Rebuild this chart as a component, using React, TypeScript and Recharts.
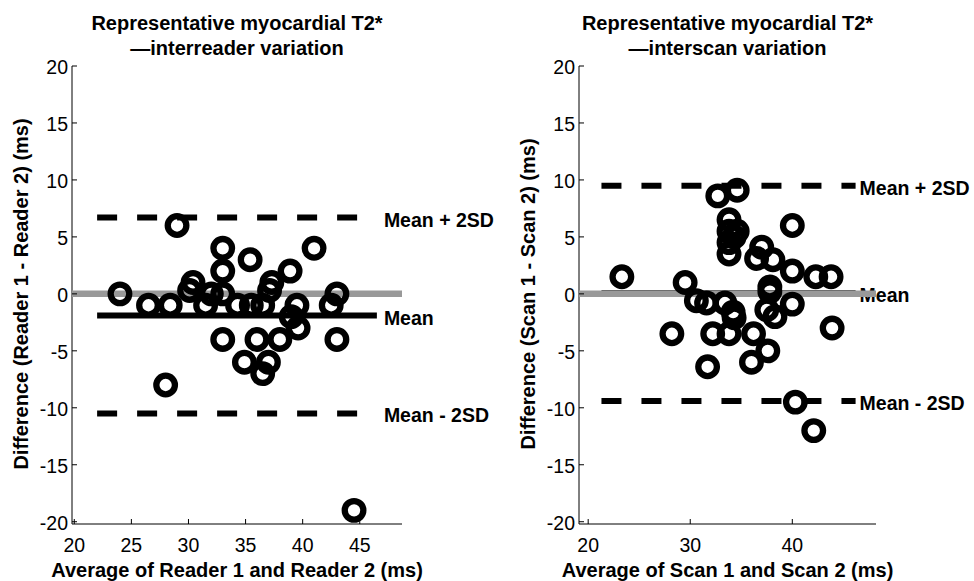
import React from 'react';
import { ScatterChart, Scatter, XAxis, YAxis } from 'recharts';

const FONT = '"Liberation Sans", Arial, Helvetica, sans-serif';

// ---------- Left panel: interreader ----------
const readerAvg = [24.0, 26.5, 28.4, 28.0, 29.0, 30.4, 30.1, 31.5, 32.0, 33.0, 33.0, 33.0, 33.0, 34.3, 34.9, 35.4, 35.5, 36.0, 36.5, 36.5, 37.0, 37.1, 37.3, 38.0, 38.9, 39.5, 39.0, 39.6, 41.0, 42.5, 43.0, 43.0, 44.5];
const readerDiff = [0, -1, -1, -8, 6, 1, 0.3, -1, 0, 4, 2, 0, -4, -1, -6, 3, -1, -4, -1, -7, -6, 0.3, 1, -4, 2, -1, -2, -3, 4, -1, 0, -4, -19];
const readerStats = { mean: -1.9, upper: 6.7, lower: -10.5 };
const readerLineRange = [22, 46.5];
const readerXDomain = [19.8, 48.7];
const readerXTicks = [20, 25, 30, 35, 40, 45];

// ---------- Right panel: interscan ----------
const scanAvg = [23.3, 28.2, 29.5, 30.6, 31.6, 31.7, 32.2, 32.7, 34.6, 33.8, 33.8, 34.6, 34.3, 33.8, 33.8, 33.4, 34.2, 34.3, 33.8, 36.2, 36.0, 37.0, 36.5, 38.1, 37.8, 37.8, 37.5, 38.3, 37.6, 40.0, 40.0, 40.0, 40.3, 42.1, 42.3, 43.8, 43.9];
const scanDiff = [1.5, -3.5, 1, -0.6, -0.8, -6.4, -3.5, 8.6, 9.1, 6.5, 5.5, 5.5, 5.0, 4.5, 3.5, -0.8, -1.6, -2.1, -3.5, -3.5, -6, 4.1, 3.1, 3, 0.6, 0.2, -1.4, -2, -5, 6, 2, -0.9, -9.5, -12, 1.5, 1.5, -3];
const scanStats = { mean: 0.05, upper: 9.5, lower: -9.4 };
const scanLineRange = [21.3, 46.2];
const scanXDomain = [19.1, 48.2];
const scanXTicks = [20, 30, 40];

const yTicks = [-20, -15, -10, -5, 0, 5, 10, 15, 20];
const yDomain = [-20.2, 20];
const labelTexts = { upper: 'Mean + 2SD', mean: 'Mean', lower: 'Mean - 2SD' };

const W = 600;
const H = 581;
const TOP = 66;
const BOTTOM = 57;
const YAXIS_W = 50;

const YTick = (props: any) => {
  const { x, y, payload } = props;
  return (
    <g>
      <line x1={x + 4} x2={x + 9} y1={y} y2={y} stroke="#000" strokeWidth={1} />
      <text x={x} y={y} dy={1} textAnchor="end" dominantBaseline="central" fontSize={19.5} fontFamily={FONT} fill="#000">
        {payload.value}
      </text>
    </g>
  );
};

const XTick = (props: any) => {
  const { x, y, payload } = props;
  return (
    <g>
      <line x1={x} x2={x} y1={y} y2={y - 5} stroke="#000" strokeWidth={1} />
      <text x={x} y={y + 28} textAnchor="middle" fontSize={19.5} fontFamily={FONT} fill="#000">
        {payload.value}
      </text>
    </g>
  );
};

const Ring = (props: any) => {
  const { cx, cy } = props;
  if (cx == null || cy == null) return <g />;
  return <circle cx={cx} cy={cy} r={9.3} fill="none" stroke="#000" strokeWidth={6.3} />;
};

const Empty = () => <g />;

const makeTextMark = (offset: number) => (props: any) => {
  const { cx, cy, payload } = props;
  if (cx == null || cy == null) return <g />;
  return (
    <text x={cx + offset} y={cy} dy={2} dominantBaseline="central" fontSize={19.5} fontWeight="bold" fontFamily={FONT} fill="#000">
      {payload.label}
    </text>
  );
};

type PanelProps = {
  avg: number[];
  diff: number[];
  stats: { mean: number; upper: number; lower: number };
  lineRange: number[];
  xDomain: number[];
  xTicks: number[];
  marginLeft: number;
  marginRight: number;
  labelOffset: number;
  title1: string;
  title2: string;
  xLabel: string;
  yLabel: string;
};

const Panel = (p: PanelProps) => {
  const points = p.avg.map((x, i) => ({ x, y: p.diff[i] }));
  const [x0, x1] = p.lineRange;
  const seg = (y: number) => [{ x: x0, y }, { x: x1, y }];
  const zero = [{ x: p.xDomain[0], y: 0 }, { x: p.xDomain[1], y: 0 }];
  const labels = [
    { x: x1, y: p.stats.upper, label: labelTexts.upper },
    { x: x1, y: p.stats.mean, label: labelTexts.mean },
    { x: x1, y: p.stats.lower, label: labelTexts.lower },
  ];
  const TextMark = makeTextMark(p.labelOffset);
  const plotLeft = p.marginLeft + YAXIS_W;
  const plotW = W - plotLeft - p.marginRight;
  const cx = plotLeft + plotW / 2;
  const plotBottom = H - BOTTOM;
  const cy = (TOP + plotBottom) / 2 - 1;
  const yLabX = p.marginLeft + 6;
  return (
    <div style={{ position: 'relative', width: W, height: H }}>
      <ScatterChart width={W} height={H} margin={{ top: TOP, right: p.marginRight, bottom: 27, left: p.marginLeft }}>
        <XAxis
          type="number"
          dataKey="x"
          domain={p.xDomain}
          ticks={p.xTicks}
          tickSize={0}
          tickMargin={0}
          tick={<XTick />}
          axisLine={{ stroke: '#000', strokeWidth: 1 }}
          height={30}
          interval={0}
        />
        <YAxis
          type="number"
          dataKey="y"
          domain={yDomain}
          ticks={yTicks}
          tickSize={0}
          tickMargin={4}
          tick={<YTick />}
          axisLine={{ stroke: '#000', strokeWidth: 1 }}
          width={YAXIS_W}
          interval={0}
        />
        <Scatter data={labels} shape={<TextMark />} isAnimationActive={false} />
        <Scatter data={seg(p.stats.mean)} shape={<Empty />} line={{ stroke: '#000', strokeWidth: 6 }} isAnimationActive={false} />
        <Scatter data={seg(p.stats.upper)} shape={<Empty />} line={{ stroke: '#000', strokeWidth: 6, strokeDasharray: '20 20' }} isAnimationActive={false} />
        <Scatter data={seg(p.stats.lower)} shape={<Empty />} line={{ stroke: '#000', strokeWidth: 6, strokeDasharray: '20 20' }} isAnimationActive={false} />
        <Scatter data={zero} shape={<Empty />} line={{ stroke: '#999999', strokeWidth: 6.5 }} isAnimationActive={false} />
        <Scatter data={points} shape={<Ring />} isAnimationActive={false} />
      </ScatterChart>
      <svg width={W} height={H} style={{ position: 'absolute', left: 0, top: 0, pointerEvents: 'none' }}>
        <text x={cx} y={29.5} textAnchor="middle" fontSize={20} fontWeight="bold" fontFamily={FONT} fill="#000">{p.title1}</text>
        <text x={cx} y={55} textAnchor="middle" fontSize={20} fontWeight="bold" fontFamily={FONT} fill="#000">{p.title2}</text>
        <text x={cx} y={plotBottom + 53} textAnchor="middle" fontSize={20} fontWeight="bold" fontFamily={FONT} fill="#000">{p.xLabel}</text>
        <text x={yLabX} y={cy} textAnchor="middle" fontSize={20} fontWeight="bold" fontFamily={FONT} fill="#000" transform={`rotate(-90, ${yLabX}, ${cy})`}>{p.yLabel}</text>
      </svg>
    </div>
  );
};

export default function App() {
  return (
    <div style={{ position: 'absolute', left: 0, top: 0, width: 974, height: 581, background: '#fff', overflow: 'hidden' }}>
      <div style={{ position: 'absolute', left: 0, top: 0 }}>
        <Panel
          avg={readerAvg}
          diff={readerDiff}
          stats={readerStats}
          lineRange={readerLineRange}
          xDomain={readerXDomain}
          xTicks={readerXTicks}
          marginLeft={22}
          marginRight={198}
          labelOffset={7}
          title1="Representative myocardial T2*"
          title2="—interreader variation"
          xLabel="Average of Reader 1 and Reader 2 (ms)"
          yLabel="Difference (Reader 1 - Reader 2) (ms)"
        />
      </div>
      <div style={{ position: 'absolute', left: 487, top: 0 }}>
        <Panel
          avg={scanAvg}
          diff={scanDiff}
          stats={scanStats}
          lineRange={scanLineRange}
          xDomain={scanXDomain}
          xTicks={scanXTicks}
          marginLeft={42}
          marginRight={211}
          labelOffset={4}
          title1="Representative myocardial T2*"
          title2="—interscan variation"
          xLabel="Average of Scan 1 and Scan 2 (ms)"
          yLabel="Difference (Scan 1 - Scan 2) (ms)"
        />
      </div>
    </div>
  );
}
